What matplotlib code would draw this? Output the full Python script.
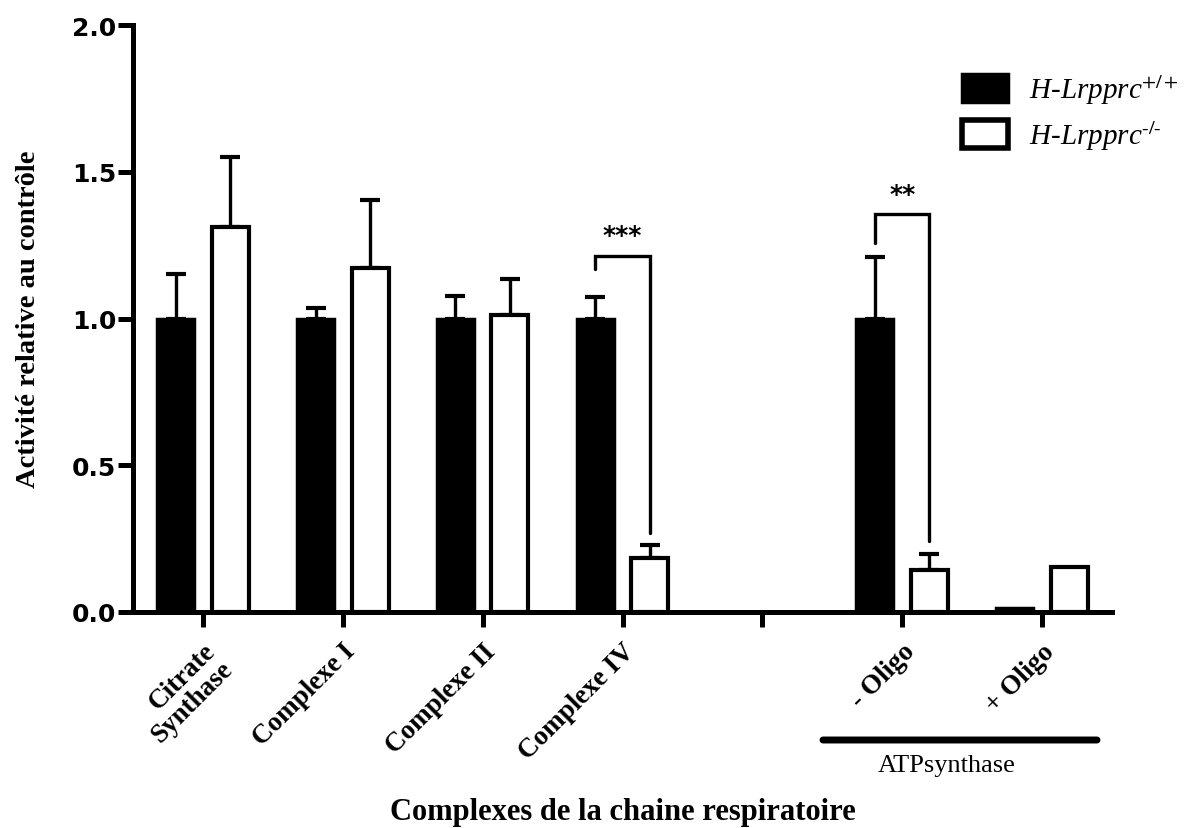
import matplotlib
matplotlib.use("Agg")
import matplotlib.pyplot as plt
from matplotlib.patches import Patch
import numpy as np

categories = ["Citrate\nSynthase", "Complexe I", "Complexe II", "Complexe IV", "", "- Oligo", "+ Oligo"]
wt_values = [1.0, 1.0, 1.0, 1.0, np.nan, 1.0, 0.012]
wt_err = [0.15, 0.036, 0.078, 0.073, np.nan, 0.208, 0.0]
ko_values = [1.312, 1.171, 1.013, 0.184, np.nan, 0.144, 0.152]
ko_err = [0.238, 0.233, 0.12, 0.045, np.nan, 0.052, 0.0]
series_names = ["H-Lrpprc$^{+/+}$", r"H-Lrpprc$^{\text{-/-}}$"]
yticks = [0.0, 0.5, 1.0, 1.5, 2.0]
# significance: (group index, bracket top, left leg bottom, right leg bottom, label)
signif = [(3, 1.214, 1.17, 0.27, "***"), (5, 1.355, 1.258, 0.243, "**")]

plt.rcParams["mathtext.fontset"] = "stix"

W, H = 1192, 829
fig = plt.figure(figsize=(W / 100, H / 100), dpi=100)
ax = fig.add_axes([133 / W, (829 - 613) / H, (1112 - 133) / W, (613 - 26) / H])

x = np.arange(len(categories))
off = 0.195
bw = 0.265
lw_axis = 3.6

ax.bar(x - off, wt_values, bw, color="black", edgecolor="black", linewidth=2.5, zorder=3)
ax.bar(x + off, ko_values, bw, color="white", edgecolor="black", linewidth=3.0, zorder=3)

wt_v = np.array(wt_values); ko_v = np.array(ko_values)
wt_e = np.array(wt_err); ko_e = np.array(ko_err)
mw = (~np.isnan(wt_v)) & (np.nan_to_num(wt_e) > 0)
mk = (~np.isnan(ko_v)) & (np.nan_to_num(ko_e) > 0)
ax.errorbar((x - off)[mw], wt_v[mw], yerr=[np.zeros(mw.sum()), wt_e[mw]], fmt="none",
            ecolor="black", elinewidth=2.4, capsize=7.5, capthick=3, zorder=2)
ax.errorbar((x + off)[mk], ko_v[mk], yerr=[np.zeros(mk.sum()), ko_e[mk]], fmt="none",
            ecolor="black", elinewidth=2.4, capsize=7.5, capthick=3, zorder=2)

for g, top, lb, rb, lab in signif:
    xl, xr = g - off, g + off
    ax.plot([xl, xl, xr, xr], [lb, top, top, rb], color="black", lw=2.4,
            solid_joinstyle="miter", solid_capstyle="round", zorder=4)
    ax.text(g, top + 0.03, lab, ha="center", va="bottom", fontsize=18,
            family="DejaVu Sans", fontweight="bold", zorder=4)

ax.set_xlim(-0.5, 6.5)
ax.set_ylim(0, 2.0)
ax.set_yticks(yticks)
ax.set_yticklabels([f"{v:.1f}" for v in yticks], fontsize=18, fontweight="bold",
                   family="DejaVu Sans")
ax.set_xticks(x)
ax.set_xticklabels(categories, rotation=45, ha="right", rotation_mode="anchor",
                   fontsize=19.5, fontweight="bold", family="Liberation Serif",
                   linespacing=1.0)
ax.tick_params(axis="both", length=11, width=lw_axis, direction="out")
ax.tick_params(axis="y", pad=1)
ax.tick_params(axis="x", pad=8)
for s in ["top", "right"]:
    ax.spines[s].set_visible(False)
for s in ["left", "bottom"]:
    ax.spines[s].set_linewidth(lw_axis)
ax.spines["left"].set_capstyle("projecting")

ax.set_ylabel("Activité relative au contrôle", fontsize=20.5, fontweight="bold",
              family="Liberation Serif", labelpad=22)

handles = [Patch(facecolor="black", edgecolor="black", linewidth=2.5),
           Patch(facecolor="white", edgecolor="black", linewidth=4)]
leg = fig.legend(handles, series_names, loc="upper left",
                 bbox_to_anchor=(950 / W, 1 - 62 / H), frameon=False,
                 prop={"family": "Liberation Serif", "style": "italic", "size": 21},
                 handlelength=1.6, handleheight=1.1, labelspacing=0.4, handletextpad=0.7,
                 borderaxespad=0)

# ATPsynthase group line and label
ax.annotate("", xy=(823 / W, 1 - 741 / H), xytext=(1097 / W, 1 - 741 / H),
            xycoords="figure fraction", textcoords="figure fraction",
            arrowprops=dict(arrowstyle="-", lw=5, color="black", capstyle="round",
                            shrinkA=0, shrinkB=0))
fig.text(947 / W, 1 - 766 / H, "ATPsynthase", ha="center", va="center", fontsize=19,
         family="Liberation Serif")
fig.text(623 / W, 1 - 813 / H, "Complexes de la chaine respiratoire", ha="center",
         va="center", fontsize=22, fontweight="bold", family="Liberation Serif")

fig.savefig("out.png", dpi=100)
